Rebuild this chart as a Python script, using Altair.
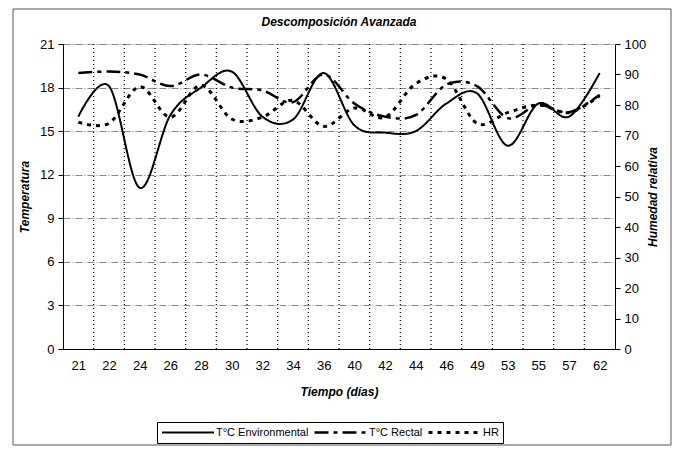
import json
import altair as alt
import pandas as pd

days = ["21", "22", "24", "26", "28", "30", "32", "34", "36", "40", "42", "44", "46", "49", "53", "55", "57", "62"]
t_env = [16.0, 18.1, 11.1, 16.1, 18.0, 19.1, 16.0, 15.8, 19.0, 15.4, 14.9, 15.0, 16.9, 17.6, 14.0, 16.9, 16.0, 19.0]
t_rectal = [19.0, 19.1, 18.9, 18.1, 18.9, 18.0, 17.8, 17.0, 18.9, 16.9, 16.0, 16.1, 18.2, 18.1, 15.9, 16.8, 16.3, 17.5]
hr = [74.4, 74.0, 86.0, 76.0, 86.5, 75.4, 76.0, 81.5, 73.0, 79.0, 76.0, 87.0, 88.5, 74.0, 77.5, 80.0, 77.5, 83.0]

series_names = ["T°C Environmental", "T°C Rectal", "HR"]
temp_ticks = [0, 3, 6, 9, 12, 15, 18, 21]
hr_ticks = [0, 10, 20, 30, 40, 50, 60, 70, 80, 90, 100]
chart_title = "Descomposición Avanzada"

FONT = "Liberation Sans"

rows = []
for i, d in enumerate(days):
    rows.append({"idx": i, "day": d, "series": series_names[0], "temp": t_env[i]})
    rows.append({"idx": i, "day": d, "series": series_names[1], "temp": t_rectal[i]})
    rows.append({"idx": i, "day": d, "series": series_names[2], "hr": hr[i]})
df = pd.DataFrame(rows)

bounds = pd.DataFrame({"idx": [i + 0.5 for i in range(len(days) - 1)]})

label_expr = json.dumps(days) + "[datum.value]"

x_scale = alt.Scale(domain=[-0.5, len(days) - 0.5], nice=False, zero=False)
x_axis = alt.Axis(
    values=list(range(len(days))),
    labelExpr=label_expr,
    ticks=False,
    grid=False,
    title="Tiempo (días)",
    titleFontStyle="italic",
    titleFontWeight="bold",
    titleFontSize=12,
    titlePadding=14,
    labelFontSize=13,
    labelPadding=10,
    domainColor="black",
    labelColor="black",
    titleColor="black",
    labelFont=FONT,
    titleFont=FONT,
)
x_enc = alt.X("idx:Q", scale=x_scale, axis=x_axis)

dash_scale = alt.Scale(
    domain=series_names,
    range=[[1, 0], [14, 5, 4, 5], [4, 5]],
)
width_scale = alt.Scale(domain=series_names, range=[2, 3, 2.2])

legend = alt.Legend(
    title=None,
    orient="none",
    legendX=94,
    legendY=378,
    direction="horizontal",
    strokeColor="black",
    fillColor="white",
    padding=4,
    symbolType="stroke",
    symbolSize=2700,
    symbolStrokeWidth=2.5,
    symbolStrokeColor="black",
    clipHeight=13,
    labelFontSize=11,
    labelFont=FONT,
    labelColor="black",
    labelOffset=1,
    columnPadding=4,
)

temp_lines = (
    alt.Chart(df)
    .transform_filter(alt.datum.series != "HR")
    .mark_line(interpolate="cardinal", color="black")
    .encode(
        x=x_enc,
        y=alt.Y(
            "temp:Q",
            scale=alt.Scale(domain=[0, 21], nice=False),
            axis=alt.Axis(
                values=temp_ticks,
                title="Temperatura",
                titleFontStyle="italic",
                titleFontWeight="bold",
                titleFontSize=12,
                titlePadding=8,
                labelFontSize=13,
                labelPadding=4,
                tickSize=5,
                tickColor="black",
                domainColor="black",
                labelColor="black",
                titleColor="black",
                grid=True,
                gridColor="#888",
                gridDash=[7, 2, 1, 2],
                gridWidth=1,
                labelFont=FONT,
                titleFont=FONT,
            ),
        ),
        strokeDash=alt.StrokeDash("series:N", scale=dash_scale, legend=legend),
        strokeWidth=alt.StrokeWidth("series:N", scale=width_scale, legend=None),
        detail="series:N",
    )
)

hr_line = (
    alt.Chart(df)
    .transform_filter(alt.datum.series == "HR")
    .mark_line(interpolate="cardinal", color="black")
    .encode(
        x=x_enc,
        y=alt.Y(
            "hr:Q",
            scale=alt.Scale(domain=[0, 100], nice=False),
            axis=alt.Axis(
                orient="right",
                values=hr_ticks,
                title="Humedad relativa",
                titleAngle=270,
                titleFontStyle="italic",
                titleFontWeight="bold",
                titleFontSize=12,
                titlePadding=14,
                labelFontSize=13,
                labelPadding=4,
                tickSize=5,
                tickColor="black",
                domainColor="black",
                labelColor="black",
                titleColor="black",
                grid=False,
                labelFont=FONT,
                titleFont=FONT,
            ),
        ),
        strokeDash=alt.StrokeDash("series:N", scale=dash_scale, legend=legend),
        strokeWidth=alt.StrokeWidth("series:N", scale=width_scale, legend=None),
    )
)

vgrid = (
    alt.Chart(bounds)
    .mark_rule(color="black", strokeDash=[1, 3], strokeWidth=1.2)
    .encode(
        x=x_enc,
        y=alt.value(0),
        y2=alt.value(305),
    )
)

frame = (
    alt.Chart(alt.Data(values=[{"f": 1}]))
    .mark_rect(fill="white", fillOpacity=0, stroke="#555", strokeWidth=1)
    .encode(
        x=alt.value(-50),
        x2=alt.value(608),
        y=alt.value(-35),
        y2=alt.value(401),
    )
)

title_mark = (
    alt.Chart(alt.Data(values=[{"t": chart_title}]))
    .mark_text(
        font=FONT,
        fontSize=12,
        fontStyle="italic",
        fontWeight="bold",
        color="black",
        align="center",
        baseline="middle",
    )
    .encode(text="t:N", x=alt.value(276), y=alt.value(-22))
)

chart = (
    alt.layer(frame, vgrid, temp_lines, hr_line, title_mark)
    .resolve_scale(y="independent")
    .properties(
        width=552,
        height=305,
        autosize=alt.AutoSizeParams(type="none"),
        padding={"left": 55, "top": 36, "right": 57, "bottom": 98},
    )
    .configure_view(stroke=None)
    .configure(background="white")
)

chart.save("out.html", embed_options={"renderer": "svg", "actions": False})
